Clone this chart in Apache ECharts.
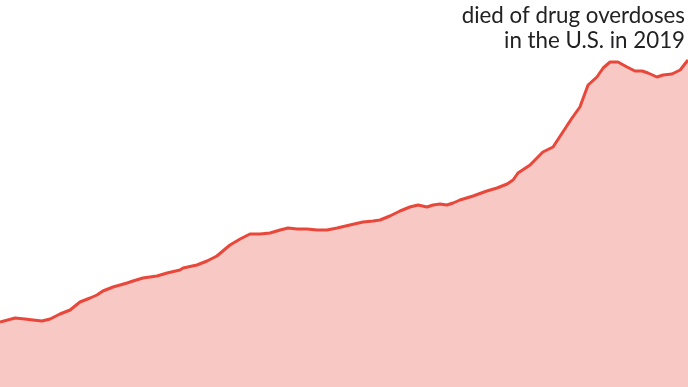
<!DOCTYPE html>
<html>
<head>
<meta charset="utf-8">
<script src="https://cdn.jsdelivr.net/npm/echarts@6/dist/echarts.min.js"></script>
<style>
html,body{margin:0;padding:0;background:#fff;}
#chart{width:688px;height:387px;}
</style>
</head>
<body>
<div id="chart"></div>
<script>
// Time (decimal years) and overdose deaths (thousands)
const years = [1999.00,1999.46,1999.76,2000.01,2000.28,2000.53,2000.83,2001.14,2001.44,2001.75,2001.96,2002.14,2002.45,2002.88,2003.06,2003.36,2003.79,2004.10,2004.49,2004.59,2005.01,2005.32,2005.62,2006.02,2006.33,2006.63,2006.94,2007.24,2007.55,2007.79,2008.07,2008.37,2008.68,2008.98,2009.29,2009.68,2010.08,2010.39,2010.60,2010.90,2011.21,2011.51,2011.76,2012.03,2012.22,2012.43,2012.64,2012.83,2013.04,2013.44,2013.86,2014.17,2014.48,2014.66,2014.81,2015.18,2015.57,2015.88,2016.18,2016.46,2016.70,2016.95,2017.22,2017.41,2017.62,2017.86,2018.14,2018.38,2018.60,2018.78,2019.05,2019.24,2019.51,2019.76,2020.00];
const deaths = [14.30,15.18,14.96,14.74,14.52,14.96,16.06,16.94,18.70,19.58,20.24,21.12,22.00,22.88,23.32,23.98,24.42,25.08,25.74,26.18,26.84,27.72,28.82,31.24,32.56,33.66,33.66,33.88,34.54,34.98,34.76,34.76,34.54,34.54,34.98,35.64,36.30,36.52,36.74,37.62,38.72,39.60,40.04,39.60,40.04,40.26,40.04,40.48,41.14,42.02,43.12,43.78,44.66,45.54,47.08,48.84,51.70,52.80,56.10,59.18,61.60,66.44,68.20,70.18,71.50,71.50,70.40,69.52,69.52,69.08,68.20,68.64,68.86,69.74,71.94];
const labelLines = ["died of drug overdoses", "in the U.S. in 2019"];

const chart = echarts.init(document.getElementById('chart'), null, {renderer: 'canvas'});
chart.setOption({
  animation: false,
  grid: {left: 0, right: 0, top: 0, bottom: 0},
  xAxis: {type: 'value', min: 1999, max: 2020, show: false},
  yAxis: {type: 'value', min: 0, max: 85.14, show: false},
  series: [{
    type: 'line',
    data: years.map((y, i) => [y, deaths[i]]),
    showSymbol: false,
    smooth: false,
    lineStyle: {color: '#e8473a', width: 3, join: 'round'},
    areaStyle: {color: '#f7c8c4', opacity: 1},
    z: 2
  }],
  graphic: labelLines.map((t, i) => ({
    type: 'text',
    right: 3,
    top: 5 + i * 25,
    style: {
      text: t,
      fill: '#222',
      font: '400 22.3px Lato, "Liberation Sans", sans-serif',
      textAlign: 'right'
    }
  }))
});
</script>
</body>
</html>
